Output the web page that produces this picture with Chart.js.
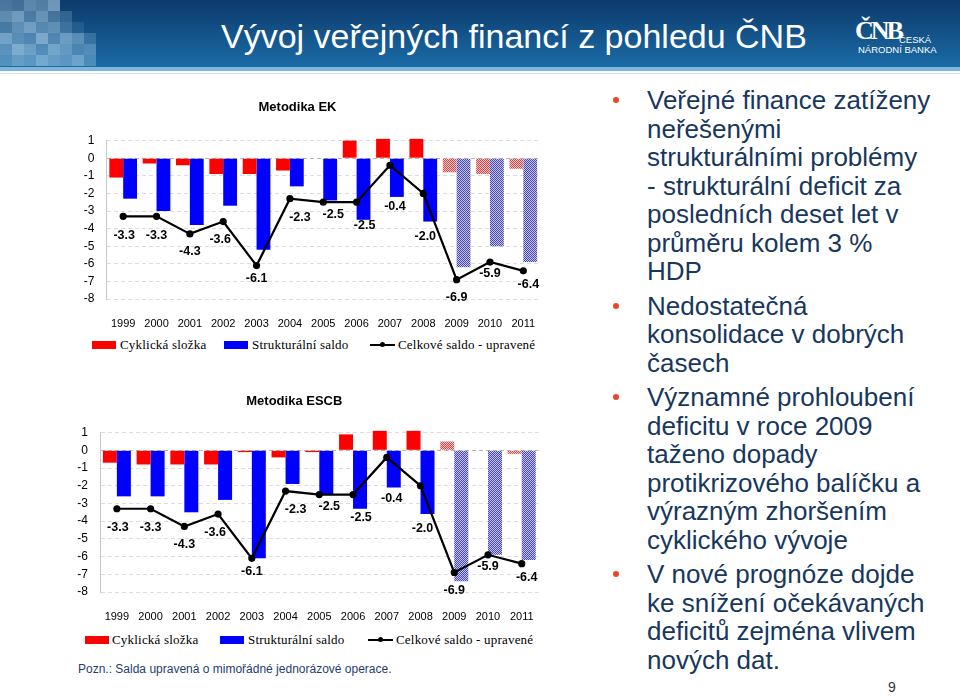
<!DOCTYPE html>
<html>
<head>
<meta charset="utf-8">
<script src="https://cdn.jsdelivr.net/npm/chart.js@4"></script>
<style>
  body { margin: 0; width: 960px; height: 696px; background: #fff; position: relative; overflow: hidden; font-family: "Liberation Sans", Arial, sans-serif; }
  #header { position: absolute; left: 0; top: 0; width: 960px; height: 67px; background: linear-gradient(to bottom, #0c3a6c, #1b6ba6); overflow: hidden; }
  #header .sq { position: absolute; width: 12px; height: 11px; background: #bfe0f5; }
  #band1 { position: absolute; left: 0; top: 67px; width: 960px; height: 4px; background: #7db5db; }
  #band2 { position: absolute; left: 0; top: 73px; width: 960px; height: 1px; background: #cfe3f1; }
  #title { position: absolute; left: 221px; top: 17px; color: #fff; font-size: 34px; white-space: nowrap; }
  #logo { position: absolute; left: 855px; top: 16px; color: #fff; }
  #logo .big { position: absolute; left: 0; top: 0; font-size: 26px; font-weight: bold; letter-spacing: -3px; font-family: "Liberation Serif", serif; }
  #logo .s1 { position: absolute; left: 44px; top: 18px; font-size: 9.5px; white-space: nowrap; }
  #logo .s2 { position: absolute; left: 3px; top: 28px; font-size: 9.5px; white-space: nowrap; }
  canvas { position: absolute; }
  .legend { position: absolute; height: 14px; font-family: "Liberation Serif", "Times New Roman", serif; font-size: 13px; color: #000; }
  .legend span { position: absolute; top: 0; white-space: nowrap; line-height: 14px; letter-spacing: 0.2px; }
  .legend .box { position: absolute; top: 3px; width: 24px; height: 8px; }
  .legend .ln { position: absolute; top: 6px; width: 25px; height: 2px; background: #000; }
  .legend .dot { position: absolute; top: 4px; width: 5px; height: 5px; border-radius: 50%; background: #000; }
  #note { position: absolute; left: 78px; top: 662px; font-size: 12px; color: #1f3d6e; white-space: nowrap; }
  #bullets { position: absolute; left: 647px; top: 86px; color: #17375e; font-size: 26px; line-height: 28.5px; white-space: nowrap; }
  #bullets p { margin: 0 0 6px 0; position: relative; }
  #bullets p::before { content: ""; position: absolute; left: -34px; top: 11px; width: 6px; height: 6px; border-radius: 50%; background: #e8452c; }
  #page { position: absolute; left: 888px; top: 679px; font-size: 14px; color: #333; }
</style>
</head>
<body>
<div id="header"></div>
<div id="band1"></div>
<div id="band2"></div>
<div id="title">Vývoj veřejných financí z pohledu ČNB</div>
<div id="logo"><span class="big">ČNB</span><span class="s1">ČESKÁ</span><span class="s2">NÁRODNÍ BANKA</span></div>

<canvas id="chartEK" width="495" height="235" style="left:55px;top:95px;width:495px;height:235px"></canvas>
<div class="legend" style="left:92px;top:338px;width:460px">
  <div class="box" style="left:0;background:#f00"></div><span style="left:28px">Cyklická složka</span>
  <div class="box" style="left:132px;background:#00f"></div><span style="left:160px">Strukturální saldo</span>
  <div class="ln" style="left:278px"></div><div class="dot" style="left:288px"></div><span style="left:306px">Celkové saldo - upravené</span>
</div>

<canvas id="chartESCB" width="500" height="240" style="left:50px;top:385px;width:500px;height:240px"></canvas>
<div class="legend" style="left:85px;top:633px;width:460px">
  <div class="box" style="left:0;background:#f00"></div><span style="left:27px">Cyklická složka</span>
  <div class="box" style="left:135px;background:#00f"></div><span style="left:163px">Strukturální saldo</span>
  <div class="ln" style="left:283px"></div><div class="dot" style="left:293px"></div><span style="left:311px">Celkové saldo - upravené</span>
</div>

<div id="note">Pozn.: Salda upravená o mimořádné jednorázové operace.</div>

<div id="bullets">
  <p>Veřejné finance zatíženy<br>neřešenými<br>strukturálními problémy<br>- strukturální deficit za<br>posledních deset let v<br>průměru kolem 3 %<br>HDP</p>
  <p>Nedostatečná<br>konsolidace v dobrých<br>časech</p>
  <p>Významné prohloubení<br>deficitu v roce 2009<br>taženo dopady<br>protikrizového balíčku a<br>výrazným zhoršením<br>cyklického vývoje</p>
  <p>V nové prognóze dojde<br>ke snížení očekávaných<br>deficitů zejména vlivem<br>nových dat.</p>
</div>
<div id="page">9</div>

<script>
// years on the x axis
const years = ['1999', '2000', '2001', '2002', '2003', '2004', '2005', '2006', '2007', '2008', '2009', '2010', '2011'];

// Metodika EK (% HDP)
const ekCyclical = [-1.1, -0.3, -0.4, -0.9, -0.9, -0.7, 0.0, 1.0, 1.1, 1.1, -0.8, -0.9, -0.6];
const ekStructural = [-2.3, -3.0, -3.8, -2.7, -5.2, -1.6, -2.4, -3.5, -2.2, -3.6, -6.2, -5.0, -5.9];
const ekTotal = [-3.3, -3.3, -4.3, -3.6, -6.1, -2.3, -2.5, -2.5, -0.4, -2.0, -6.9, -5.9, -6.4];

// Metodika ESCB (% HDP)
const escbCyclical = [-0.7, -0.8, -0.8, -0.8, -0.1, -0.4, -0.1, 0.9, 1.1, 1.1, 0.5, 0.0, -0.2];
const escbStructural = [-2.6, -2.6, -3.5, -2.8, -6.1, -1.9, -2.5, -3.3, -2.1, -3.6, -7.4, -5.9, -6.2];
const escbTotal = [-3.3, -3.3, -4.3, -3.6, -6.1, -2.3, -2.5, -2.5, -0.4, -2.0, -6.9, -5.9, -6.4];

// first forecast year (hatched bars from here)
const forecastFrom = 10;

// where the value labels sit relative to the line points (px)
const labelShift = [[1, 19], [0, 19], [0, 18], [-3, 18], [0, 13], [10, 19], [10, 12], [8, 23], [5, 41], [2, 43], [0, 18], [0, 12], [5, 14]];

// header mosaic, white opacity per square
const mosaic = [
  [0.35, 0.30, 0.45, 0.40, 0.55, 0.00, 0.00, 0.00],
  [0.45, 0.55, 0.35, 0.50, 0.30, 0.20, 0.00, 0.00],
  [0.30, 0.45, 0.55, 0.40, 0.45, 0.25, 0.10, 0.00],
  [0.55, 0.40, 0.35, 0.60, 0.35, 0.50, 0.40, 0.20],
  [0.40, 0.60, 0.50, 0.35, 0.55, 0.45, 0.30, 0.35],
  [0.35, 0.45, 0.40, 0.55, 0.45, 0.40, 0.50, 0.30],
];
const header = document.getElementById('header');
mosaic.forEach((row, r) => {
  row.forEach((a, c) => {
    if (!a) return;
    const d = document.createElement('div');
    d.className = 'sq';
    d.style.left = (c * 12) + 'px';
    d.style.top = (r * 11) + 'px';
    d.style.opacity = a;
    header.appendChild(d);
  });
});

// fine checkered fill for the forecast bars
function hatch(bg, fg) {
  const c = document.createElement('canvas');
  c.width = 2;
  c.height = 2;
  const x = c.getContext('2d');
  x.fillStyle = bg;
  x.fillRect(0, 0, 2, 2);
  x.fillStyle = fg;
  x.fillRect(0, 0, 1, 1);
  x.fillRect(1, 1, 1, 1);
  return x.createPattern(c, 'repeat');
}

const redHatch = hatch('#f6c4c4', '#cc4a4a');
const blueHatch = hatch('#c4c4ea', '#4848b0');

const pointLabels = {
  id: 'pointLabels',
  afterDatasetsDraw(chart) {
    const ds = chart.data.datasets[2];
    const meta = chart.getDatasetMeta(2);
    const ctx = chart.ctx;
    ctx.save();
    ctx.font = 'bold 12.5px "Liberation Sans", Arial, sans-serif';
    ctx.fillStyle = '#000';
    ctx.textAlign = 'center';
    ctx.textBaseline = 'middle';
    meta.data.forEach((pt, i) => {
      ctx.fillText(ds.data[i].toFixed(1), pt.x + labelShift[i][0], pt.y + labelShift[i][1]);
    });
    ctx.restore();
  },
};

function buildChart(id, title, cyclical, structural, total, box) {
  const ctx = document.getElementById(id).getContext('2d');
  return new Chart(ctx, {
    type: 'bar',
    data: {
      labels: years,
      datasets: [
        {
          label: 'Cyklická složka',
          data: cyclical,
          backgroundColor: cyclical.map((v, i) => (i >= forecastFrom ? redHatch : '#ff0000')),
          categoryPercentage: 0.83,
          barPercentage: 1,
          clip: false,
          order: 2,
        },
        {
          label: 'Strukturální saldo',
          data: structural,
          backgroundColor: structural.map((v, i) => (i >= forecastFrom ? blueHatch : '#0000ff')),
          categoryPercentage: 0.83,
          barPercentage: 1,
          clip: false,
          order: 2,
        },
        {
          type: 'line',
          label: 'Celkové saldo - upravené',
          data: total,
          borderColor: '#000',
          backgroundColor: '#000',
          borderWidth: 2.2,
          pointRadius: 2.5,
          pointBackgroundColor: '#000',
          tension: 0,
          order: 1,
        },
      ],
    },
    options: {
      responsive: false,
      animation: false,
      layout: { padding: { left: 0, right: box.right, top: 0, bottom: 0 } },
      plugins: {
        legend: { display: false },
        tooltip: { enabled: false },
        title: {
          display: true,
          text: title,
          color: '#000',
          font: { family: '"Liberation Sans", Arial, sans-serif', size: 13, weight: 'bold' },
          padding: { top: box.titleTop, bottom: box.titleBottom },
        },
      },
      scales: {
        x: {
          grid: { display: false },
          border: { display: false },
          ticks: { color: '#000', padding: 10, font: { family: '"Liberation Sans", Arial, sans-serif', size: 11 } },
          afterFit: (s) => { s.height = box.xHeight; },
        },
        y: {
          min: -8,
          max: 1,
          grid: {
            drawTicks: false,
            color: (c) => (c.tick && c.tick.value === 0 ? '#b8b8b8' : '#dcdcdc'),
          },
          border: { display: true, color: '#c8c8c8', dash: [4, 3] },
          ticks: { stepSize: 1, color: '#000', padding: 12, font: { family: '"Liberation Sans", Arial, sans-serif', size: 12 } },
          afterFit: (s) => { s.width = box.yWidth; },
        },
      },
    },
    plugins: [pointLabels],
  });
}

buildChart('chartEK', 'Metodika EK', ekCyclical, ekStructural, ekTotal,
  { right: 10, titleTop: 5, titleBottom: 25, xHeight: 31, yWidth: 51.5 });
buildChart('chartESCB', 'Metodika ESCB', escbCyclical, escbStructural, escbTotal,
  { right: 11.4, titleTop: 9, titleBottom: 23, xHeight: 33, yWidth: 50 });
</script>
</body>
</html>
